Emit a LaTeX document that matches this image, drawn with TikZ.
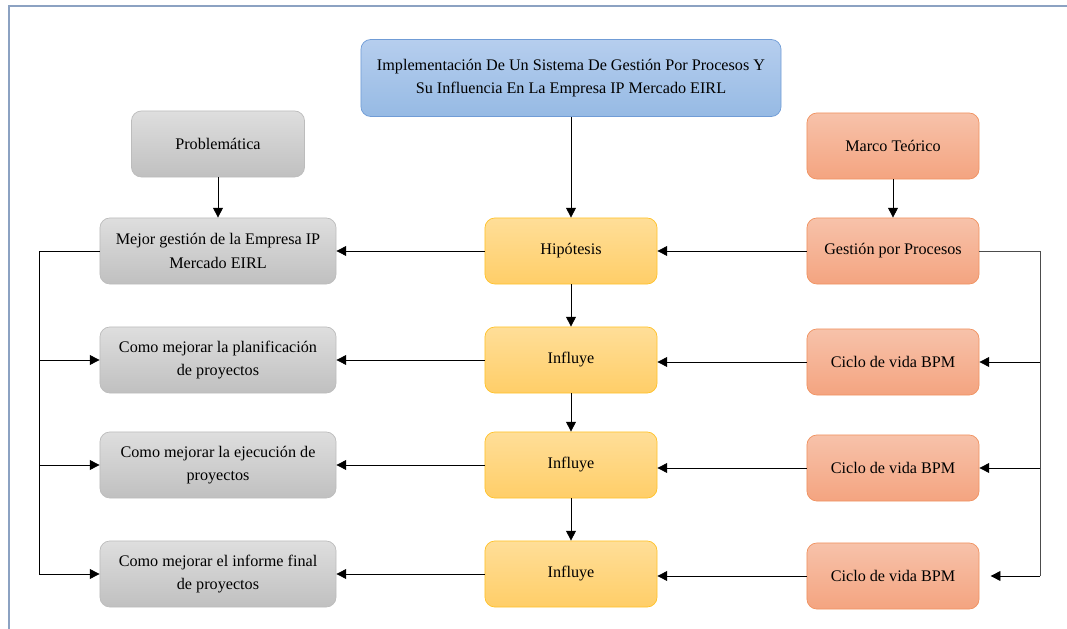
\documentclass[tikz,border=0pt]{standalone}
\usepackage{fontspec}
\setmainfont{Liberation Serif}
\usetikzlibrary{arrows.meta}

\definecolor{marcoCol}{RGB}{140,162,194}
\definecolor{azulA}{RGB}{182,206,238}
\definecolor{azulB}{RGB}{150,186,228}
\definecolor{azulL}{RGB}{112,156,214}
\definecolor{grisA}{RGB}{222,222,222}
\definecolor{grisB}{RGB}{192,192,192}
\definecolor{grisL}{RGB}{188,188,188}
\definecolor{naranjaA}{RGB}{247,194,170}
\definecolor{naranjaB}{RGB}{244,164,128}
\definecolor{naranjaL}{RGB}{240,146,96}
\definecolor{amarilloA}{RGB}{255,222,152}
\definecolor{amarilloB}{RGB}{255,206,104}
\definecolor{amarilloL}{RGB}{255,194,40}

\begin{document}
\begin{tikzpicture}
      [x=0.025cm,y=-0.025cm,
       every node/.style={rounded corners=7pt,align=center,minimum height=1.65cm,
         font=\fontsize{11.5}{16.5}\selectfont,line width=0.5pt},
       azulbox/.style={top color=azulA,bottom color=azulB,draw=azulL,
         minimum width=10.5cm,minimum height=1.925cm},
       grisbox/.style={top color=grisA,bottom color=grisB,draw=grisL,minimum width=5.9cm},
       naranjabox/.style={top color=naranjaA,bottom color=naranjaB,draw=naranjaL,minimum width=4.3cm},
       amarillobox/.style={top color=amarilloA,bottom color=amarilloB,draw=amarilloL,minimum width=4.3cm},
       flecha/.style={-{Triangle[length=7pt,width=7pt]},line width=0.6pt}]
      \useasboundingbox (0,0) rectangle (1067,629);
      \draw [marcoCol,line width=1.3pt] (9,629) -- (9,6) -- (1067,6);

      \node[azulbox] (titulo) at (571,78) {Implementación De Un Sistema De Gestión Por Procesos Y\\Su Influencia En La Empresa IP Mercado EIRL};
      \node[grisbox,minimum width=4.325cm] (problema) at (218,144) {Problemática};
      \node[naranjabox] (marco) at (893,146) {Marco Teórico};

      \node[grisbox] (mejor) at (218,251) {Mejor gestión de la Empresa IP\\Mercado EIRL};
      \node[amarillobox] (hipo) at (571,251) {Hipótesis};
      \node[naranjabox] (gpp) at (893,251) {Gestión por Procesos};

      \node[grisbox] (plan) at (218,360) {Como mejorar la planificación\\de proyectos};
      \node[amarillobox] (infA) at (571,360) {Influye};
      \node[naranjabox] (cicA) at (893,362) {Ciclo de vida BPM};

      \node[grisbox] (ejec) at (218,465) {Como mejorar la ejecución de\\proyectos};
      \node[amarillobox] (infB) at (571,465) {Influye};
      \node[naranjabox] (cicB) at (893,468) {Ciclo de vida BPM};

      \node[grisbox] (informe) at (218,574) {Como mejorar el informe final\\de proyectos};
      \node[amarillobox] (infC) at (571,574) {Influye};
      \node[naranjabox] (cicC) at (893,576) {Ciclo de vida BPM};

      \coordinate (busIzq) at (39,251);
      \coordinate (busDer) at (1040,251);

      \foreach \from/\to in {titulo/hipo, problema/mejor, marco/gpp, hipo/infA, infA/infB, infB/infC,
                             hipo/mejor, gpp/hipo, infA/plan, infB/ejec, infC/informe}
      \draw [flecha] (\from) -- (\to);
      \foreach \from/\to in {cicA/infA, cicB/infB, cicC/infC}
      \draw [flecha] (\from.west) -- (\to.east |- \from.west);

      % lineas laterales
      \draw [line width=0.6pt] (mejor.west) -- (busIzq) -- (busIzq |- informe);
      \foreach \to in {plan, ejec, informe}
      \draw [flecha] (busIzq |- \to) -- (\to.west);
      \draw [line width=0.6pt,black!70] (gpp.east) -- (busDer) -- (busDer |- cicC);
      \draw [flecha] (busDer |- cicA) -- (cicA.east);
      \draw [flecha] (busDer |- cicB) -- (cicB.east);
      \draw [flecha,shorten >=8pt] (busDer |- cicC) -- (cicC.east);
    \end{tikzpicture}
\end{document}
